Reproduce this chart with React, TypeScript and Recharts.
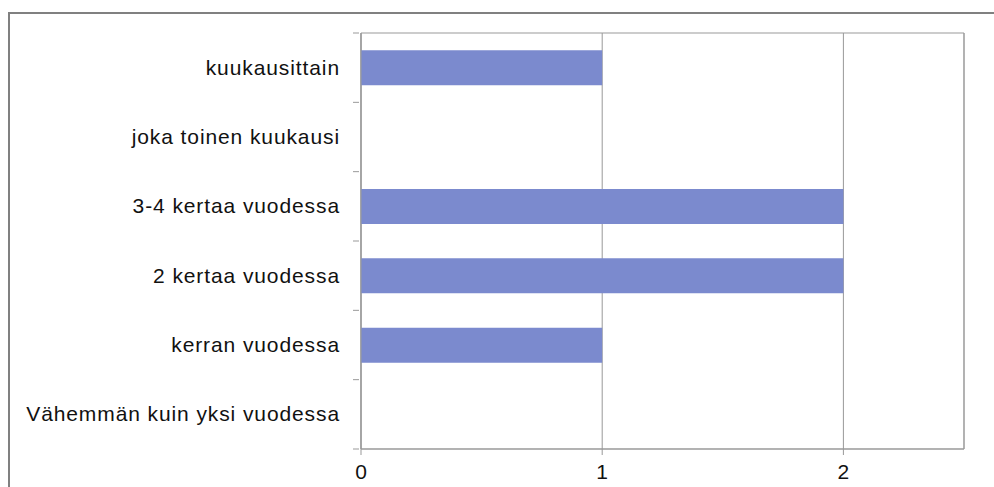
import React from "react";
import { BarChart, Bar, XAxis, YAxis, CartesianGrid, ReferenceArea } from "recharts";

const categories = [
  "kuukausittain",
  "joka toinen kuukausi",
  "3-4 kertaa vuodessa",
  "2 kertaa vuodessa",
  "kerran vuodessa",
  "Vähemmän kuin yksi vuodessa",
];
const values = [1, 0, 2, 2, 1, 0];
const xTicks = [0, 1, 2];
const xMax = 2.5;

const data = categories.map((c, i) => ({ name: c, value: values[i] }));

const FONT = "'Liberation Sans', Arial, sans-serif";
const AXIS = "#999999";

const YTick = (props: any) => {
  const { x, y, payload, index, visibleTicksCount, height } = props;
  const half = height / visibleTicksCount / 2;
  const axisX = x + 6;
  return (
    <g>
      <line x1={axisX - 6} x2={axisX} y1={y - half} y2={y - half} stroke={AXIS} />
      {index === visibleTicksCount - 1 && (
        <line x1={axisX - 6} x2={axisX} y1={y + half} y2={y + half} stroke={AXIS} />
      )}
      <text
        x={axisX - 19}
        y={y}
        dy={7}
        textAnchor="end"
        fill="#111"
        fontSize={21}
        fontFamily={FONT}
        letterSpacing={0.9}
      >
        {payload.value}
      </text>
    </g>
  );
};

export default function App() {
  return (
    <div style={{ position: "fixed", left: 0, top: 0, width: 994, height: 487, background: "#fff", overflow: "hidden" }}>
      <div
        style={{
          position: "absolute",
          left: 8,
          top: 12,
          width: 1100,
          height: 600,
          border: "2px solid #808080",
        }}
      />
      <div style={{ position: "absolute", left: 0, top: 0 }}>
        <BarChart
          width={994}
          height={487}
          data={data}
          layout="vertical"
          margin={{ top: 33, right: 30, bottom: 0, left: 0 }}
          barCategoryGap="25%"
        >
          <CartesianGrid horizontal={false} stroke={AXIS} strokeWidth={1} />
          <ReferenceArea x1={0} x2={xMax} stroke={AXIS} fill="none" strokeOpacity={1} fillOpacity={0} />
          <XAxis
            type="number"
            domain={[0, xMax]}
            allowDataOverflow={true}
            ticks={xTicks}
            height={38}
            stroke={AXIS}
            tickSize={6}
            tickMargin={9}
            tick={{ fill: "#111", fontSize: 21, fontFamily: FONT }}
          />
          <YAxis
            type="category"
            dataKey="name"
            width={361}
            stroke={AXIS}
            tickLine={false}
            interval={0}
            tick={<YTick />}
          />
          <Bar dataKey="value" fill="#7b8ace" isAnimationActive={false} />
        </BarChart>
      </div>
    </div>
  );
}
